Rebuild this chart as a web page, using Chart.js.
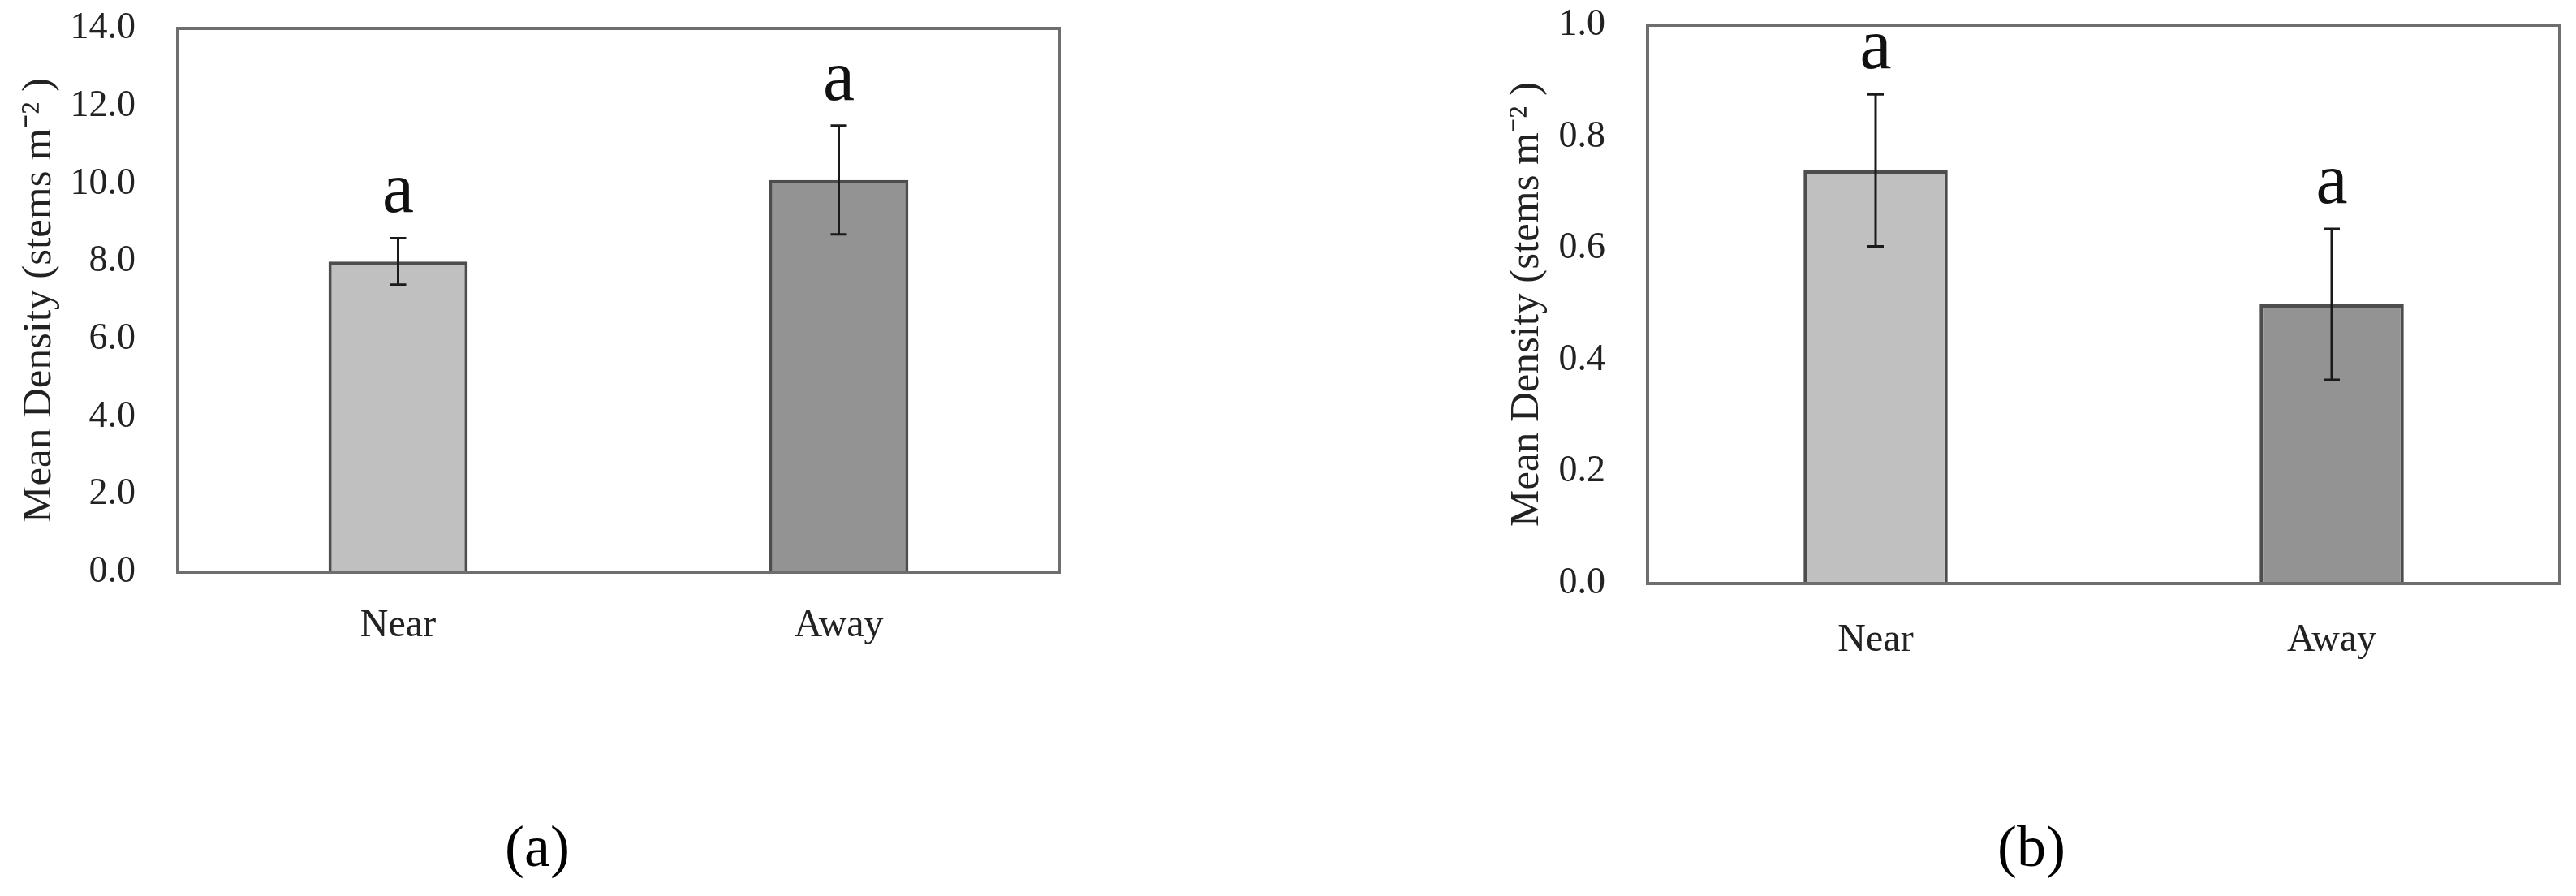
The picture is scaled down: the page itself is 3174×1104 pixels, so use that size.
<!DOCTYPE html>
<html>
<head>
<meta charset="utf-8">
<script src="https://cdn.jsdelivr.net/npm/chart.js@4.4.1/dist/chart.umd.min.js"></script>
<style>
  html, body { margin: 0; padding: 0; background: #fff; }
  #page { position: relative; width: 3174px; height: 1104px; overflow: hidden; }
  canvas { position: absolute; top: 0; }
  #chart-a { left: 0; }
  #chart-b { left: 1820px; }
  .panel-label {
    position: absolute; top: 1007px;
    font-family: 'Liberation Serif', 'Times New Roman', serif;
    font-size: 72px; line-height: 1; color: #000;
    transform: translateX(-50%);
  }
</style>
</head>
<body>
<div id="page">
  <canvas id="chart-a" width="1330" height="900"></canvas>
  <canvas id="chart-b" width="1354" height="900"></canvas>
  <div class="panel-label" style="left:662px">(a)</div>
  <div class="panel-label" style="left:2503px">(b)</div>
</div>
<script>
const categories = ['Near', 'Away'];

// panel (a)
const densityA = [8.0, 10.1];
const errorA   = [0.6, 1.4];
const lettersA = ['a', 'a'];

// panel (b)
const densityB = [0.74, 0.50];
const errorB   = [0.136, 0.135];
const lettersB = ['a', 'a'];

const barColors = ['#c0c0c0', '#939393'];
const yTitle = 'Mean Density (stems m\u207B\u00B2 )';

const SERIF = "'Liberation Serif', 'Times New Roman', serif";

Chart.defaults.font.family = SERIF;
Chart.defaults.color = '#222';

// frame round the plot, error bars and the letters above them
const frameAndErrors = {
  id: 'frameAndErrors',
  afterDatasetsDraw(chart, args, opts) {
    const { ctx, chartArea: a } = chart;
    const y = chart.scales.y;
    const meta = chart.getDatasetMeta(0);
    const vals = chart.data.datasets[0].data;

    ctx.save();
    ctx.strokeStyle = '#6e6e6e';
    ctx.lineWidth = 4;
    ctx.strokeRect(a.left, a.top, a.right - a.left, a.bottom - a.top);

    meta.data.forEach((bar, i) => {
      const top = y.getPixelForValue(vals[i] + opts.errors[i]);
      const bot = y.getPixelForValue(vals[i] - opts.errors[i]);
      ctx.strokeStyle = '#1a1a1a';
      ctx.lineWidth = 3;
      ctx.beginPath();
      ctx.moveTo(bar.x, top); ctx.lineTo(bar.x, bot);
      ctx.moveTo(bar.x - 10, top); ctx.lineTo(bar.x + 10, top);
      ctx.moveTo(bar.x - 10, bot); ctx.lineTo(bar.x + 10, bot);
      ctx.stroke();

      ctx.fillStyle = '#111';
      ctx.font = `88px ${SERIF}`;
      ctx.textAlign = 'center';
      ctx.textBaseline = 'alphabetic';
      ctx.fillText(opts.letters[i], bar.x, top - 32);
    });
    ctx.restore();
  }
};

function makePanel(id, values, errors, letters, cfg) {
  new Chart(document.getElementById(id), {
    type: 'bar',
    data: {
      labels: categories,
      datasets: [{
        data: values,
        backgroundColor: barColors,
        borderColor: '#4d4d4d',
        borderWidth: 4,
        borderSkipped: 'start',
        categoryPercentage: 1,
        barPercentage: 0.316,
      }]
    },
    plugins: [frameAndErrors],
    options: {
      responsive: false,
      animation: false,
      devicePixelRatio: 1,
      layout: { padding: cfg.padding, autoPadding: false },
      plugins: {
        legend: { display: false },
        tooltip: { enabled: false },
        frameAndErrors: { errors, letters }
      },
      scales: {
        x: {
          grid: { display: false },
          border: { display: false },
          ticks: { font: { size: 48 }, padding: cfg.xPad, color: '#222' },
          afterFit: s => { s.height = cfg.xHeight; }
        },
        y: {
          min: 0,
          max: cfg.max,
          grid: { display: false },
          border: { display: false },
          ticks: {
            stepSize: cfg.step,
            font: { size: 46 },
            padding: 44,
            color: '#222',
            callback: v => v.toFixed(1)
          },
          title: {
            display: true,
            text: yTitle,
            font: { size: 51 },
            color: '#222',
            padding: { top: cfg.titlePad, bottom: 0 }
          },
          afterFit: s => {
            s.width = cfg.yWidth;
            s.paddingTop = 0;
            s.paddingBottom = 0;
          }
        }
      }
    }
  });
}

makePanel('chart-a', densityA, errorA, lettersA, {
  max: 14, step: 2,
  padding: { top: 35, right: 25, left: 0, bottom: 0 },
  yWidth: 219, xHeight: 195, xPad: 30, titlePad: 18
});

makePanel('chart-b', densityB, errorB, lettersB, {
  max: 1, step: 0.2,
  padding: { top: 31, right: 20, left: 0, bottom: 0 },
  yWidth: 210, xHeight: 181, xPad: 34, titlePad: 31
});
</script>
</body>
</html>
